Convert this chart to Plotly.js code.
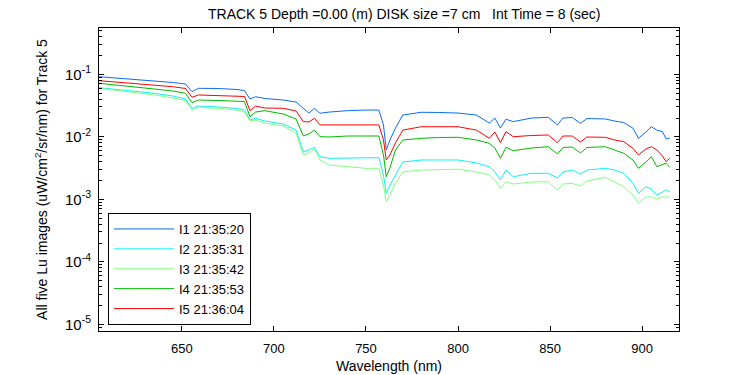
<!DOCTYPE html>
<html>
<head>
<meta charset="utf-8">
<script src="https://cdn.plot.ly/plotly-3.0.1.min.js"></script>
<style>html,body{margin:0;padding:0;background:#fff;}#chart{width:750px;height:375px;}</style>
</head>
<body>
<div id="chart"></div>
<script>
const wavelength = [605,615,625,635,645,652,655.5,659,670,680,684,687,690,695,705,712,716,719,722,725,730,740,750,757,759.5,761,763,766,770,780,790,800,810,817,820,823,826,830,840,849,854,857,862,866.5,870,880,885,890,895,898,902,905,908,911,913,915];

const i1 = [0.0916,0.0873,0.0826,0.0782,0.0740,0.0700,0.0527,0.0597,0.0593,0.0571,0.0547,0.0403,0.0438,0.0410,0.0388,0.0360,0.0289,0.0240,0.0286,0.0238,0.0249,0.0262,0.0268,0.0268,0.0155,0.00615,0.00889,0.0138,0.0223,0.0247,0.0245,0.0240,0.0223,0.0166,0.0200,0.0138,0.0191,0.0175,0.0200,0.0205,0.0155,0.0200,0.0204,0.0164,0.0196,0.0193,0.0179,0.0169,0.0137,0.00946,0.0119,0.0145,0.0128,0.0121,0.00923,0.00957];

const i2 = [0.0611,0.0571,0.0531,0.0497,0.0450,0.0403,0.0286,0.0311,0.0300,0.0284,0.0268,0.0186,0.0198,0.0179,0.0160,0.0128,0.00578,0.00615,0.00679,0.00481,0.00453,0.00458,0.00464,0.00464,0.00245,0.00125,0.00169,0.00245,0.00395,0.00426,0.00426,0.00426,0.00381,0.00333,0.00274,0.00204,0.00294,0.00230,0.00261,0.00261,0.00219,0.00274,0.00294,0.00254,0.00294,0.00313,0.00294,0.00261,0.00180,0.00125,0.00159,0.00146,0.00117,0.00131,0.00141,0.00132];

const i3 = [0.0597,0.0551,0.0502,0.0467,0.0418,0.0381,0.0268,0.0296,0.0284,0.0268,0.0249,0.0181,0.0186,0.0166,0.0149,0.0115,0.00512,0.00551,0.00631,0.00426,0.00354,0.00329,0.00313,0.00313,0.00169,0.000916,0.00117,0.00182,0.00274,0.00294,0.00300,0.00303,0.00274,0.00245,0.00204,0.00150,0.00191,0.00176,0.00189,0.00191,0.00141,0.00176,0.00180,0.00163,0.00196,0.00225,0.00189,0.00159,0.00117,0.000863,0.00110,0.00109,0.00101,0.00110,0.00107,0.00110];

const i4 = [0.0718,0.0675,0.0634,0.0582,0.0541,0.0497,0.0352,0.0388,0.0381,0.0374,0.0367,0.0210,0.0249,0.0262,0.0232,0.0193,0.0103,0.0111,0.0128,0.01005,0.00993,0.0103,0.0103,0.0103,0.00512,0.00230,0.00317,0.00615,0.00889,0.00946,0.00975,0.00982,0.00889,0.00787,0.00662,0.00453,0.00679,0.00600,0.00662,0.00695,0.00531,0.00675,0.00686,0.00551,0.00675,0.00695,0.00615,0.00545,0.00426,0.00313,0.00395,0.00481,0.00333,0.00354,0.00377,0.00325];

const i5 = [0.0791,0.0753,0.0718,0.0675,0.0634,0.0593,0.0429,0.0467,0.0458,0.0450,0.0442,0.0262,0.0311,0.0289,0.0286,0.0259,0.0175,0.0173,0.0198,0.0155,0.0155,0.0155,0.0155,0.0155,0.00889,0.00426,0.00512,0.00796,0.0128,0.0145,0.0145,0.0145,0.0128,0.00946,0.0119,0.00805,0.0121,0.01005,0.0105,0.0107,0.00805,0.0103,0.0103,0.00826,0.00993,0.00982,0.00889,0.00836,0.00655,0.00512,0.00638,0.00695,0.00615,0.00493,0.00400,0.00453];

const seriesNames = ['I1 21:35:20','I2 21:35:31','I3 21:35:42','I4 21:35:53','I5 21:36:04'];
const seriesValues = [i1, i2, i3, i4, i5];
const seriesColors = ['#0a6cf5','#10f0f0','#80ff80','#00bb00','#ff0000'];

const yTickVals = [1e-5,1e-4,1e-3,1e-2,1e-1];
const yTickText = ['10<sup>-5</sup>','10<sup>-4</sup>','10<sup>-3</sup>','10<sup>-2</sup>','10<sup>-1</sup>'];
const xTickVals = [650,700,750,800,850,900];
const yMinorTickVals = [
  9e-6,
  2e-5,3e-5,4e-5,5e-5,6e-5,7e-5,8e-5,9e-5,
  2e-4,3e-4,4e-4,5e-4,6e-4,7e-4,8e-4,9e-4,
  2e-3,3e-3,4e-3,5e-3,6e-3,7e-3,8e-3,9e-3,
  2e-2,3e-2,4e-2,5e-2,6e-2,7e-2,8e-2,9e-2,
  2e-1,3e-1,4e-1,5e-1
];

const traces = seriesNames.map((n, k) => ({
  x: wavelength, y: seriesValues[k], name: n, type: 'scatter', mode: 'lines',
  line: {color: seriesColors[k], width: 1}
}));

const fam = 'Liberation Sans, Arial, sans-serif';
const layout = {
  width: 750, height: 375,
  paper_bgcolor: '#fff', plot_bgcolor: '#fff',
  margin: {l: 99, r: 71, t: 28, b: 44, pad: 0},
  font: {family: fam, size: 13, color: '#000'},
  showlegend: true,
  title: {text: 'TRACK 5 Depth =0.00 (m) DISK size =7 cm\u00a0\u00a0\u00a0Int Time = 8 (sec)',
          font: {family: fam, size: 14, color: '#000'},
          x: 208/750, xanchor: 'left', xref: 'container', y: 1 - 14/375, yanchor: 'middle', yref: 'container'},
  xaxis: {
    range: [605, 920], tickvals: xTickVals, ticktext: xTickVals.map(String),
    ticks: 'inside', ticklen: 5, tickcolor: '#000', showgrid: false, zeroline: false,
    showline: true, linecolor: '#000', linewidth: 1, mirror: 'ticks',
    ticklabelstandoff: 5,
    title: {text: 'Wavelength (nm)', font: {family: fam, size: 14}, standoff: 6},
    tickfont: {family: fam, size: 13}
  },
  yaxis: {
    type: 'log', range: [-5.107, -0.259], tickvals: yTickVals, ticktext: yTickText,
    ticks: 'inside', ticklen: 5, tickcolor: '#000', showgrid: false, zeroline: false,
    showline: true, linecolor: '#000', linewidth: 1, mirror: 'ticks',
    ticklabelstandoff: 4,
    minor: {tickvals: yMinorTickVals, ticks: 'inside', ticklen: 3, tickcolor: '#000', showgrid: false},
    title: {text: 'All five Lu images (uW/cm<sup>2</sup>/sr/nm) for Track 5', font: {family: fam, size: 14}, standoff: 14},
    tickfont: {family: fam, size: 15}
  },
  legend: {
    x: 9/580, y: (331-213)/303, xanchor: 'left', yanchor: 'top',
    bgcolor: '#fff', bordercolor: '#000', borderwidth: 1,
    font: {family: fam, size: 13, color: '#000'},
    itemwidth: 60,
    tracegroupgap: 0
  }
};

Plotly.newPlot('chart', traces, layout, {staticPlot: true, displayModeBar: false});
</script>
</body>
</html>
